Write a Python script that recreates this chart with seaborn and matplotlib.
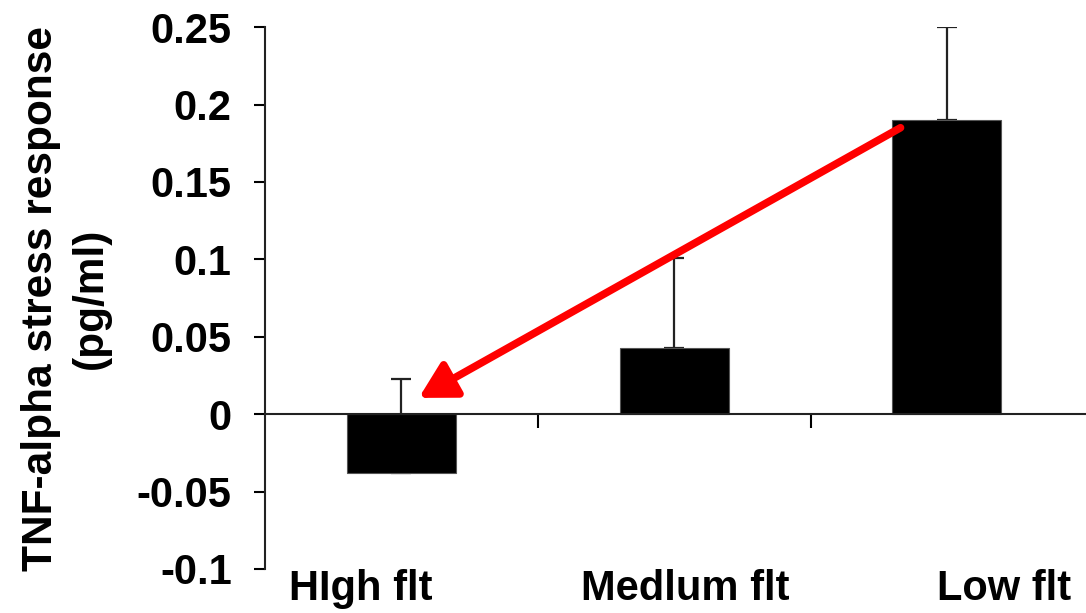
import matplotlib
matplotlib.use("Agg")
import matplotlib.pyplot as plt
import seaborn as sns
import pandas as pd

# data
categories = ["High fit", "Medium fit", "Low fit"]
labels = ["HIgh flt", "Medlum flt", "Low flt"]
means = [-0.038, 0.043, 0.190]
err_up = [0.061, 0.058, 0.060]
label_x = [-0.15, 1.04, 2.21]

sns.set_style("white")
plt.rcParams["font.family"] = ["Liberation Sans", "DejaVu Sans"]
plt.rcParams["font.weight"] = "bold"
plt.rcParams["text.color"] = "black"
plt.rcParams["axes.labelcolor"] = "black"
plt.rcParams["xtick.color"] = "black"
plt.rcParams["ytick.color"] = "black"

df = pd.DataFrame({"group": categories, "value": means})

fig = plt.figure(figsize=(10.86, 6.13), dpi=100)
ax = fig.add_axes([0.244, 0.0718, 0.756, 0.884])

# upper error bars only, kept under the bars
ax.errorbar(range(len(means)), means, yerr=[[0] * len(means), err_up],
            fmt="none", ecolor="#222222", elinewidth=1.6, capsize=7,
            capthick=1.6, zorder=0.5)

sns.barplot(data=df, x="group", y="value", color="black", width=0.4,
            edgecolor="#555555", linewidth=0.8, ax=ax, zorder=2)

ax.set_xlim(-0.5, 2.51)
ax.set_ylim(-0.1, 0.25)
ax.set_yticks([-0.1, -0.05, 0, 0.05, 0.1, 0.15, 0.2, 0.25])
ax.set_yticklabels(["-0.1", "-0.05", "0", "0.05", "0.1", "0.15", "0.2", "0.25"],
                   fontsize=30, fontweight="bold")
ax.tick_params(axis="y", direction="out", length=8, width=1.5, pad=16, left=True)

# x axis runs along zero, ticks between the groups
ax.spines["bottom"].set_position(("data", 0))
ax.spines["right"].set_visible(False)
ax.spines["top"].set_visible(False)
for side in ["left", "bottom"]:
    ax.spines[side].set_color("#222222")
    ax.spines[side].set_linewidth(1.5)
ax.set_xticks([0.5, 1.5])
ax.set_xticklabels([])
ax.tick_params(axis="x", direction="out", length=10, width=1.5, bottom=True)
ax.set_xlabel("")

for x, lab in zip(label_x, labels):
    ax.text(x, -0.1, lab, ha="center", va="top", fontsize=30, fontweight="bold")

ax.set_ylabel("TNF-alpha stress response\n(pg/ml)", fontsize=30.5,
              fontweight="bold", linespacing=1.3)
ax.yaxis.set_label_coords(-0.188, 0.5)

# red arrow from Low fit to High fit
ax.annotate("", xy=(0.064, 0.0105), xytext=(1.83, 0.185),
            arrowprops=dict(arrowstyle="-|>,head_length=0.9,head_width=0.5",
                            color="#ff0000", lw=5.5, mutation_scale=24,
                            shrinkA=0, shrinkB=0))

fig.savefig("out.png", dpi=100)
